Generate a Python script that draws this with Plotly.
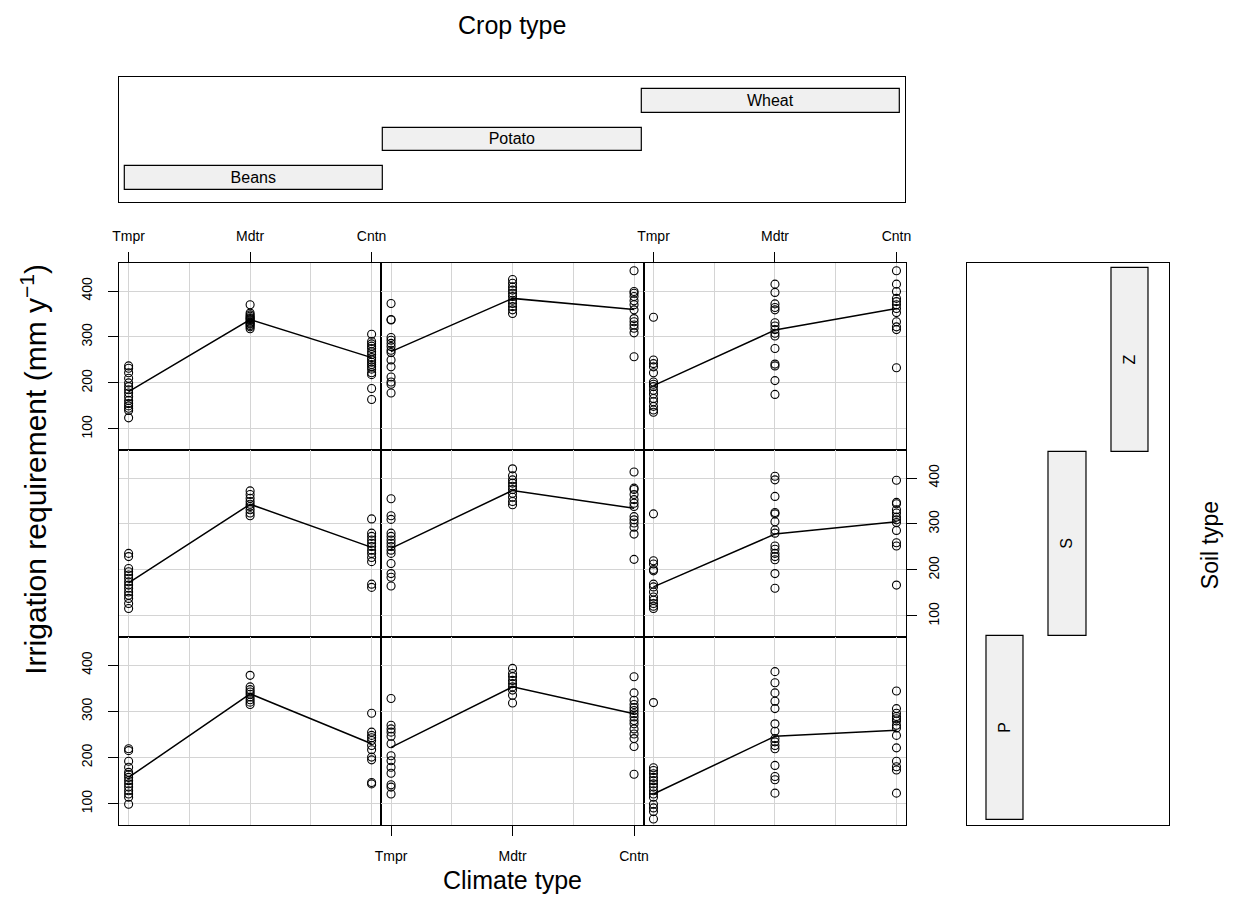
import plotly.graph_objects as go

W, H = 1236, 924

climates = ["Tmpr", "Mdtr", "Cntn"]
crops = ["Beans", "Potato", "Wheat"]
soils_rows = ["Z", "S", "P"]          # panel rows, top to bottom
soil_strip = ["P", "S", "Z"]          # strip order, bottom to top

# ---- soil Z ----
z_beans_tmpr = [237, 232, 222, 210, 200, 192, 185, 178, 170, 162, 155, 150, 145, 140, 124]
z_beans_mdtr = [370, 352, 348, 345, 342, 340, 338, 335, 332, 330, 328, 325, 322, 318]
z_beans_cntn = [306, 290, 285, 280, 275, 268, 262, 255, 250, 245, 240, 235, 230, 222, 218, 188, 164]
z_potato_tmpr = [373, 338, 337, 299, 293, 286, 279, 271, 266, 250, 235, 213, 202, 197, 178]
z_potato_mdtr = [425, 417, 409, 402, 395, 388, 380, 373, 366, 359, 351]
z_potato_cntn = [444, 399, 395, 388, 379, 370, 359, 340, 333, 326, 319, 309, 257]
z_wheat_tmpr = [343, 250, 242, 235, 222, 202, 197, 192, 184, 176, 166, 159, 149, 141, 136]
z_wheat_mdtr = [415, 397, 372, 364, 359, 331, 324, 316, 308, 302, 275, 241, 237, 205, 175]
z_wheat_cntn = [444, 415, 399, 384, 377, 370, 362, 353, 333, 322, 316, 233]
z_beans_mean = [181, 338, 255]
z_potato_mean = [268, 384, 360]
z_wheat_mean = [194, 315, 362]

# ---- soil S ----
s_beans_tmpr = [236, 229, 203, 196, 189, 182, 174, 167, 160, 152, 145, 138, 127, 116]
s_beans_mdtr = [372, 364, 356, 349, 343, 338, 331, 324, 318]
s_beans_cntn = [311, 280, 273, 265, 258, 251, 243, 236, 227, 218, 169, 162]
s_potato_tmpr = [355, 318, 310, 280, 273, 265, 258, 251, 243, 236, 214, 192, 184, 165]
s_potato_mdtr = [420, 405, 396, 389, 382, 375, 367, 358, 349, 342]
s_potato_cntn = [413, 378, 375, 364, 353, 345, 338, 316, 309, 302, 293, 278, 223]
s_wheat_tmpr = [322, 220, 213, 201, 198, 169, 163, 152, 141, 134, 127, 121, 116]
s_wheat_mdtr = [404, 396, 360, 325, 322, 305, 287, 280, 252, 245, 236, 229, 222, 192, 160]
s_wheat_cntn = [395, 347, 344, 331, 324, 315, 309, 303, 286, 259, 252, 167]
s_beans_mean = [172, 343, 249]
s_potato_mean = [247, 373, 334]
s_wheat_mean = [163, 278, 305]

# ---- soil P ----
p_beans_tmpr = [219, 215, 192, 179, 168, 163, 157, 150, 143, 136, 128, 121, 114, 99]
p_beans_mdtr = [378, 353, 347, 342, 337, 331, 325, 320, 315]
p_beans_cntn = [296, 255, 248, 243, 237, 226, 217, 201, 195, 146, 143]
p_potato_tmpr = [328, 270, 262, 255, 246, 230, 204, 193, 179, 166, 141, 136, 121]
p_potato_mdtr = [393, 382, 375, 367, 360, 353, 346, 335, 318]
p_potato_cntn = [375, 340, 324, 315, 308, 302, 295, 288, 280, 273, 262, 251, 241, 224, 164]
p_wheat_tmpr = [319, 178, 172, 165, 157, 150, 143, 136, 128, 121, 114, 99, 91, 83, 67]
p_wheat_mdtr = [386, 362, 340, 322, 306, 273, 257, 241, 234, 226, 219, 183, 159, 152, 123]
p_wheat_cntn = [344, 306, 296, 289, 284, 279, 270, 264, 248, 221, 192, 180, 173, 123]
p_beans_mean = [157, 338, 230]
p_potato_mean = [222, 353, 295]
p_wheat_mean = [121, 246, 259]

y_ticks = [100, 200, 300, 400]

panels = {
    ("Z", "Beans"): ([z_beans_tmpr, z_beans_mdtr, z_beans_cntn], z_beans_mean),
    ("Z", "Potato"): ([z_potato_tmpr, z_potato_mdtr, z_potato_cntn], z_potato_mean),
    ("Z", "Wheat"): ([z_wheat_tmpr, z_wheat_mdtr, z_wheat_cntn], z_wheat_mean),
    ("S", "Beans"): ([s_beans_tmpr, s_beans_mdtr, s_beans_cntn], s_beans_mean),
    ("S", "Potato"): ([s_potato_tmpr, s_potato_mdtr, s_potato_cntn], s_potato_mean),
    ("S", "Wheat"): ([s_wheat_tmpr, s_wheat_mdtr, s_wheat_cntn], s_wheat_mean),
    ("P", "Beans"): ([p_beans_tmpr, p_beans_mdtr, p_beans_cntn], p_beans_mean),
    ("P", "Potato"): ([p_potato_tmpr, p_potato_mdtr, p_potato_cntn], p_potato_mean),
    ("P", "Wheat"): ([p_wheat_tmpr, p_wheat_mdtr, p_wheat_cntn], p_wheat_mean),
}


def fx(a, b):
    return [a / W, b / W]


def fy(top, bottom):
    return [1 - bottom / H, 1 - top / H]


col_px = [(113, 378), (378, 643), (643, 908)]
row_px = [(263, 450), (450, 637), (637, 825)]

GRID = "#d4d4d4"
FONT = "Liberation Sans, Arial, Helvetica, sans-serif"
fig = go.Figure()
layout = {}

xpos = [1, 2, 3]
for r, soil in enumerate(soils_rows):
    for c, crop in enumerate(crops):
        k = r * 3 + c + 1
        xa = "x" if k == 1 else f"x{k}"
        ya = "y" if k == 1 else f"y{k}"
        groups, means = panels[(soil, crop)]
        xs, ys = [], []
        for i, g in enumerate(groups):
            xs += [xpos[i]] * len(g)
            ys += g
        fig.add_trace(go.Scatter(x=xs, y=ys, mode="markers", xaxis=xa, yaxis=ya,
                                 marker=dict(symbol="circle-open", size=8, color="black",
                                             line=dict(width=1.1, color="black")),
                                 cliponaxis=False, hoverinfo="x+y"))
        fig.add_trace(go.Scatter(x=xpos, y=means, mode="lines", xaxis=xa, yaxis=ya,
                                 line=dict(color="black", width=1.5)))

        # x axis
        xlab = (r == 0 and c in (0, 2)) or (r == 2 and c == 1)
        xside = "top" if r == 0 else "bottom"
        layout["xaxis" if k == 1 else f"xaxis{k}"] = dict(
            domain=fx(*col_px[c]), range=[0.92, 3.08], anchor=ya,
            tickmode="array", tickvals=xpos, ticktext=climates,
            showgrid=True, gridcolor=GRID, gridwidth=1.4,
            minor=dict(tickmode="array", tickvals=[1.5, 2.5], showgrid=True,
                       gridcolor=GRID, gridwidth=1.4, ticks=""),
            showline=True, mirror=True, linecolor="black", linewidth=1.2,
            zeroline=False, side=xside,
            ticks="outside" if xlab else "", ticklen=10, tickcolor="black",
            ticklabelstandoff=5 if r == 0 else 8,
            showticklabels=xlab, tickfont=dict(size=14, color="black"),
        )
        # y axis
        ylab_left = (c == 0 and r in (0, 2))
        ylab_right = (c == 2 and r == 1)
        ylab = ylab_left or ylab_right
        layout["yaxis" if k == 1 else f"yaxis{k}"] = dict(
            domain=fy(*row_px[r]), range=[54, 461], anchor=xa,
            tickmode="array", tickvals=y_ticks,
            showgrid=True, gridcolor=GRID, gridwidth=1.4,
            showline=True, mirror=True, linecolor="black", linewidth=1.2,
            zeroline=False, side="right" if ylab_right else "left",
            ticks="outside" if ylab else "", ticklen=10, tickcolor="black",
            ticklabelstandoff=10 if ylab_left else 5,
            showticklabels=ylab, tickangle=-90, tickfont=dict(size=14, color="black"),
        )

# ---- top strip: crop type ----
fig.add_trace(go.Bar(orientation="h", y=[0, 1, 2], x=[1, 1, 1], base=[0, 1, 2],
                     width=0.61, text=crops, textposition="inside",
                     insidetextanchor="middle", constraintext="none",
                     textfont=dict(size=16, color="black", family=FONT),
                     marker=dict(color="#f0f0f0", line=dict(color="black", width=1.2)),
                     xaxis="x10", yaxis="y10", hoverinfo="text"))
layout["xaxis10"] = dict(domain=fx(113, 907), range=[-0.023, 3.019], anchor="y10",
                         showgrid=False, zeroline=False, showticklabels=False, ticks="",
                         showline=True, mirror=True, linecolor="black", linewidth=1.2)
layout["yaxis10"] = dict(domain=fy(77, 202), range=[-0.623, 2.623], anchor="x10",
                         showgrid=False, zeroline=False, showticklabels=False, ticks="",
                         showline=True, mirror=True, linecolor="black", linewidth=1.2)

# ---- right strip: soil type ----
fig.add_trace(go.Bar(x=[0, 1, 2], y=[1, 1, 1], base=[0, 1, 2],
                     width=0.6, text=soil_strip, textposition="inside",
                     insidetextanchor="middle", textangle=-90, constraintext="none",
                     textfont=dict(size=16, color="black", family=FONT),
                     marker=dict(color="#f0f0f0", line=dict(color="black", width=1.2)),
                     xaxis="x11", yaxis="y11", hoverinfo="text"))
layout["xaxis11"] = dict(domain=fx(969, 1173), range=[-0.62, 2.62], anchor="y11",
                         showgrid=False, zeroline=False, showticklabels=False, ticks="",
                         showline=True, mirror=True, linecolor="black", linewidth=1.2)
layout["yaxis11"] = dict(domain=fy(263, 825), range=[-0.027, 3.027], anchor="x11",
                         showgrid=False, zeroline=False, showticklabels=False, ticks="",
                         showline=True, mirror=True, linecolor="black", linewidth=1.2)

annotations = [
    dict(text="Crop type", x=510 / W, y=1 - 25 / H, xref="paper", yref="paper",
         showarrow=False, font=dict(size=25), xanchor="center", yanchor="middle"),
    dict(text="Climate type", x=510 / W, y=1 - 880 / H, xref="paper", yref="paper",
         showarrow=False, font=dict(size=25), xanchor="center", yanchor="middle"),
    dict(text="Irrigation requirement (mm y<sup>\u22121</sup>)", x=27 / W, y=1 - 469 / H,
         xref="paper", yref="paper", showarrow=False, font=dict(size=30), textangle=-90,
         xanchor="center", yanchor="middle"),
    dict(text="Soil type", x=1215 / W, y=1 - 545 / H, xref="paper", yref="paper",
         showarrow=False, font=dict(size=23), textangle=-90,
         xanchor="center", yanchor="middle"),
]

fig.update_layout(width=W, height=H, margin=dict(l=0, r=0, t=0, b=0),
                  paper_bgcolor="white", plot_bgcolor="white", showlegend=False,
                  font=dict(family=FONT, color="black"), annotations=annotations,
                  bargap=0, **layout)

fig.write_html("out.html", config={"displayModeBar": False},
               post_script="document.body.style.margin='0';")
